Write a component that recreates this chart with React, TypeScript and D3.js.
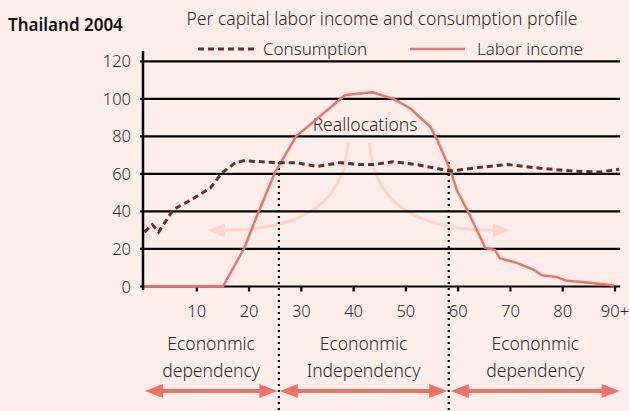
import * as d3 from "d3";

// Per capita labor income & consumption, Thailand 2004
const laborAges = [0, 15, 19, 22, 25, 29, 38.4, 43.6, 47.6, 50.8, 54.7, 56, 58.5, 59.8, 61.7, 65.2, 67, 68, 71.3, 74.4, 76, 78.9, 80.8, 85.2, 89.8];
const laborValues = [0, 0, 20, 41, 61, 80, 102, 103.5, 100, 95, 85, 78, 62, 51, 41, 20.5, 19.5, 15, 12.5, 9, 6, 5, 3, 2, 0.5];

const consAges = [0, 1.5, 2.7, 5.5, 8.8, 12.6, 14.1, 15, 17.4, 19, 25.4, 29, 33, 37.5, 41, 43.8, 47.6, 52, 58.5, 64.2, 69.4, 75.7, 82, 87.2, 90.8];
const consValues = [29, 33, 29, 41, 46, 52.5, 58, 61, 66, 67, 66, 66, 64, 66, 65, 65, 66.5, 65, 61.5, 63.5, 65, 63, 61.5, 61, 62.5];

const yTicks = [0, 20, 40, 60, 80, 100, 120];
const xTicks = [10, 20, 30, 40, 50, 60, 70, 80, 90];
const xTickLabels = ["10", "20", "30", "40", "50", "60", "70", "80", "90+"];

const dividers = [25.7, 58.2];
const phases = [
  { from: 0.1, to: 25.4, lines: ["Econonmic", "dependency"] },
  { from: 25.9, to: 57.9, lines: ["Econonmic", "Independency"] },
  { from: 58.6, to: 90.9, lines: ["Econonmic", "dependency"] },
];

const W = 629;
const H = 411;
const BG = "#fdeeea";
const LABOR = "#f0706a";
const CONS = "#6b2c2c";
const REALLOC = "#fcd6cc";
const TEXT = "#2a2a2a";
const FONT = "'Noto Sans', 'Open Sans', sans-serif";

export default function App() {
  const x = d3.scaleLinear().domain([0, 90]).range([144.5, 615]);
  const y = d3.scaleLinear().domain([0, 120]).range([286.5, 61.3]);

  const line = d3
    .line<[number, number]>()
    .x((d) => x(d[0]))
    .y((d) => y(d[1]));

  const laborPts = laborAges.map((a, i) => [a, laborValues[i]] as [number, number]);
  const consPts = consAges.map((a, i) => [a, consValues[i]] as [number, number]);

  const axisX = 143;
  const gridEnd = x(91);

  // reallocation arrows (in data coordinates)
  const lStart = [x(38.9), y(76.5)];
  const lEnd = [x(15.4), y(30)];
  const lTip = x(12.1);
  const rStart = [x(43.1), y(76.5)];
  const rEnd = [x(66.7), y(30)];
  const rTip = x(69.9);

  const arrowY = 391;

  return (
    <svg
      width={W}
      height={H}
      style={{ position: "absolute", left: 0, top: 0, background: BG }}
      fontFamily={FONT}
    >
      <rect width={W} height={H} fill={BG} />

      <text x={8} y={31} fontSize={17} fontWeight={600} fill="#111">
        Thailand 2004
      </text>
      <text x={382} y={25} fontSize={17.5} textAnchor="middle" fill={TEXT} fontWeight={300}>
        Per capital labor income and consumption profile
      </text>

      {/* legend */}
      <line x1={198} x2={258} y1={49} y2={49} stroke={CONS} strokeWidth={3} strokeDasharray="6,4" />
      <text x={263} y={55} fontSize={17} fill={TEXT} fontWeight={300}>
        Consumption
      </text>
      <line x1={410} x2={465} y1={49} y2={49} stroke={LABOR} strokeWidth={2.5} />
      <text x={477} y={55} fontSize={17} fill={TEXT} fontWeight={300}>
        Labor income
      </text>

      {/* reallocation arcs */}
      <g fill="none" stroke={REALLOC} strokeWidth={3}>
        <path d={`M${lStart[0]},${lStart[1]} Q${lStart[0] - 4},${lEnd[1]} ${lEnd[0]},${lEnd[1]}`} />
        <path d={`M${rStart[0]},${rStart[1]} Q${rStart[0] + 4},${rEnd[1]} ${rEnd[0]},${rEnd[1]}`} />
      </g>
      <g fill={REALLOC}>
        <path d={`M${lTip},${lEnd[1]} L${lTip + 17},${lEnd[1] - 7} L${lTip + 17},${lEnd[1] + 7} Z`} />
        <path d={`M${rTip},${rEnd[1]} L${rTip - 17},${rEnd[1] - 7} L${rTip - 17},${rEnd[1] + 7} Z`} />
      </g>

      {/* gridlines */}
      {yTicks.map((t) => (
        <g key={t}>
          <line x1={axisX - 3} x2={gridEnd} y1={y(t)} y2={y(t)} stroke="#000" strokeWidth={2.2} />
          <text x={131} y={y(t) + 6} fontSize={16.5} textAnchor="end" fill={TEXT} fontWeight={300}>
            {t}
          </text>
        </g>
      ))}
      <line x1={axisX} x2={axisX} y1={51} y2={290} stroke="#000" strokeWidth={2.5} />
      {xTicks.map((t, i) => (
        <g key={t}>
          <line x1={x(t)} x2={x(t)} y1={y(0)} y2={y(0) + 5} stroke="#000" strokeWidth={2.2} />
          <text x={x(t)} y={317} fontSize={16.5} textAnchor="middle" fill={TEXT} fontWeight={300}>
            {xTickLabels[i]}
          </text>
        </g>
      ))}

      {/* dividers */}
      {dividers.map((a) => (
        <line
          key={a}
          x1={x(a)}
          x2={x(a)}
          y1={162}
          y2={H}
          stroke="#000"
          strokeWidth={2.2}
          strokeDasharray="2,4"
        />
      ))}

      <text x={365} y={131} fontSize={17.5} textAnchor="middle" fill={TEXT} fontWeight={300}>
        Reallocations
      </text>

      {/* series */}
      <path d={line(laborPts) ?? ""} fill="none" stroke={LABOR} strokeWidth={2.5} strokeLinejoin="round" />
      <path d={line(consPts) ?? ""} fill="none" stroke={CONS} strokeWidth={3} strokeDasharray="6,4" />

      {/* phases */}
      {phases.map((p, i) => {
        const x1 = x(p.from);
        const x2 = x(p.to);
        const cx = (x1 + x2) / 2;
        return (
          <g key={i}>
            <text x={cx} y={350} fontSize={17.5} textAnchor="middle" fill={TEXT} fontWeight={300}>
              {p.lines[0]}
            </text>
            <text x={cx} y={377} fontSize={17.5} textAnchor="middle" fill={TEXT} fontWeight={300}>
              {p.lines[1]}
            </text>
            <line x1={x1 + 14} x2={x2 - 14} y1={arrowY} y2={arrowY} stroke={LABOR} strokeWidth={4} />
            <path d={`M${x1},${arrowY} L${x1 + 18},${arrowY - 7} L${x1 + 18},${arrowY + 7} Z`} fill={LABOR} />
            <path d={`M${x2},${arrowY} L${x2 - 18},${arrowY - 7} L${x2 - 18},${arrowY + 7} Z`} fill={LABOR} />
          </g>
        );
      })}
    </svg>
  );
}
